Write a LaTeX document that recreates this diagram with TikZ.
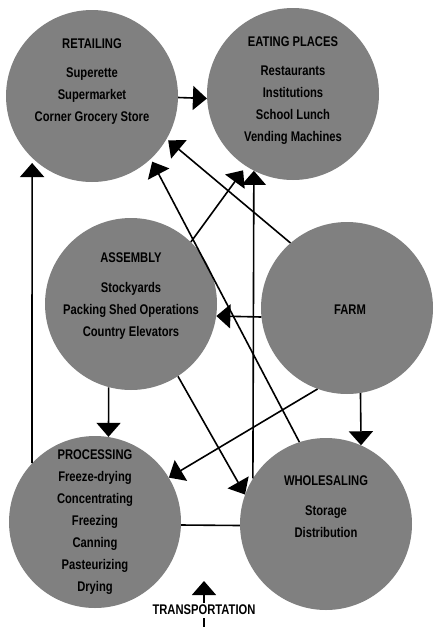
\documentclass[tikz,border=0pt]{standalone}
\usepackage{fontspec}
\setmainfont{Liberation Sans}[FakeStretch=0.8]
\usetikzlibrary{arrows.meta}
\definecolor{screen}{gray}{0.5}
\tikzset{
  sector/.style={circle, fill=screen, minimum size=172pt, inner sep=0pt},
  caption/.style={font=\bfseries\fontsize{14}{22}\selectfont, align=center, inner sep=0pt},
  flow/.style={-{Triangle[length=14pt,width=24pt]}, line width=1.6pt},
  link/.style={line width=1.6pt}
}
\begin{document}
\begin{tikzpicture}[x=1pt, y=-1pt]
    \useasboundingbox (0,0) rectangle (437,627);
    \foreach \name/\x/\y in {retail/92/96, eat/293/94, assem/131/304, farm/347/308, proc/95/522, whole/326/524}
        \node[sector] (\name) at (\x,\y) {};
    % texts in the circles
    \node[caption] (retailtxt) at ([yshift=14pt]retail.center) {RETAILING\\[7pt] Superette\\ Supermarket\\ Corner Grocery Store};
    \node[caption] (eattxt) at ([yshift=3.5pt]eat.center) {EATING PLACES\\[7pt] Restaurants\\ Institutions\\ School Lunch\\ Vending Machines};
    \node[caption] (assemtxt) at ([yshift=7.5pt]assem.center) {ASSEMBLY\\[8pt] Stockyards\\ Packing Shed Operations\\ Country Elevators};
    \node[caption] (farmtxt) at ([xshift=3pt, yshift=-2pt]farm.center) {FARM};
    \node[caption] (proctxt) at (proc.center) {PROCESSING\\ Freeze-drying\\ Concentrating\\ Freezing\\ Canning\\ Pasteurizing\\ Drying};
    \node[caption] (wholetxt) at ([yshift=17pt]whole.center) {WHOLESALING\\[8pt] Storage\\ Distribution};
    % flows between the circles
    \draw[flow] (retail.-1) -- (eat.183);
    \draw[flow, shorten >=5pt] (proc.137.1) -- (retail.-134.2);
    \draw[flow] (assem.-105.5) -- (proc.81.3);
    \draw[flow] (farm.186) -- (assem.-8.7);
    \draw[flow] (farm.-81.3) -- (whole.66.7);
    \draw[flow] (farm.250.1) -- (proc.31.1);
    \draw[flow] (assem.-57.2) -- (whole.160.3);
    \draw[link] (proc.-2.7) -- (whole.181.3);
    \draw[flow] (whole.148.1) -- (eat.-117.7);
    \draw[flow, shorten >=3pt] (whole.108.9) -- (retail.-47.3);
    \draw[flow, shorten >=2pt] (farm.131.2) -- (retail.-30.1);
    \draw[flow, shorten >=5pt] (assem.46) -- (eat.-123.3);
    % transportation
    \node[caption] (trans) at (204,610) {TRANSPORTATION};
    \coordinate (transtip) at (204,581);
    \coordinate (transfoot) at (204,627);
    \draw[flow] ([yshift=2pt]trans.north) -- (transtip);
    \draw[link] ([yshift=-3pt]trans.south) -- (transfoot);
\end{tikzpicture}
\end{document}
